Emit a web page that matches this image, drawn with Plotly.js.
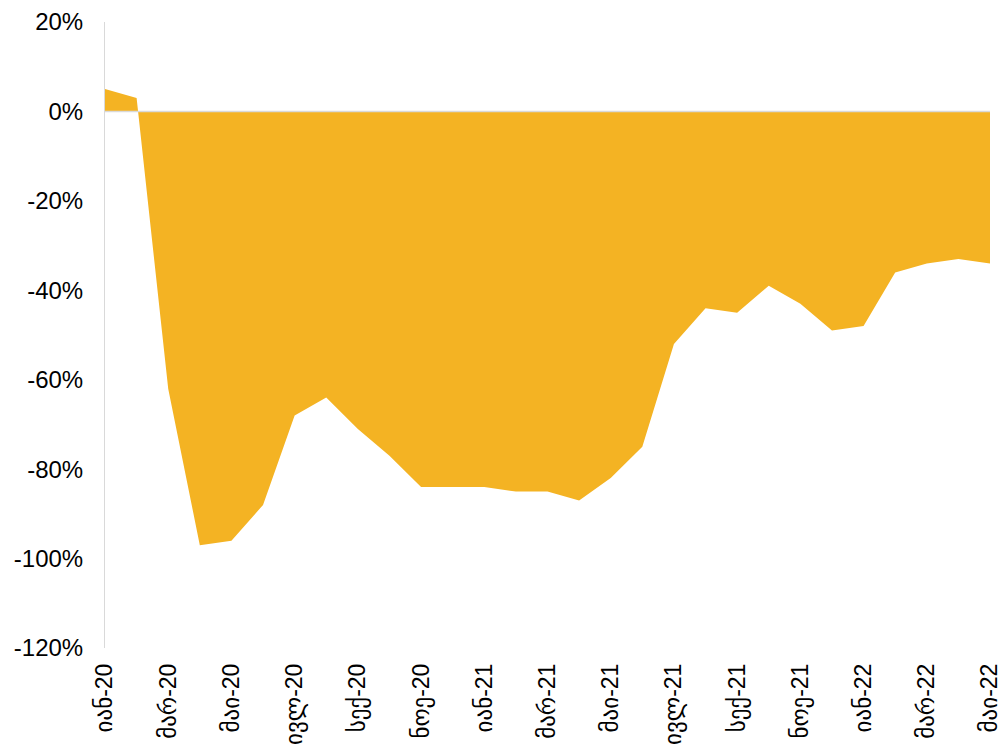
<!DOCTYPE html>
<html>
<head>
<meta charset="utf-8">
<script src="https://cdn.plot.ly/plotly-3.0.1.min.js"></script>
<style>html,body{margin:0;padding:0;background:#fff;}#chart{width:1005px;height:746px;}</style>
</head>
<body>
<div id="chart"></div>
<script>
const months = ["იან","თებ","მარ","აპრ","მაი","ივნ","ივლ","აგვ","სექ","ოქტ","ნოე","დეკ"];
const years = ["20","21","22"];
const categories = [];
for (const y of years) for (const m of months) categories.push(m + "-" + y);
const periods = categories.slice(0, 29); // Jan-20 .. May-22
const values = [5, 3, -62, -97, -96, -88, -68, -64, -71, -77, -84, -84,
                -84, -85, -85, -87, -82, -75, -52, -44, -45, -39, -43, -49,
                -48, -36, -34, -33, -34];
const tickLabels = periods.filter((_, i) => i % 2 === 0);
const yTicks = [-120, -100, -80, -60, -40, -20, 0, 20];

const font = "Liberation Sans, Arial, DejaVu Sans, sans-serif";
Plotly.newPlot("chart", [{
  x: periods,
  y: values,
  type: "scatter",
  mode: "lines",
  fill: "tozeroy",
  fillcolor: "#F4B323",
  line: {width: 0, color: "#F4B323"},
  hoverinfo: "x+y"
}], {
  width: 1005, height: 746,
  margin: {l: 105, r: 15, t: 22, b: 98},
  paper_bgcolor: "#fff", plot_bgcolor: "#fff",
  showlegend: false,
  font: {family: font, color: "#000"},
  xaxis: {
    type: "category",
    range: [0, periods.length - 1],
    tickmode: "array",
    tickvals: tickLabels,
    ticktext: tickLabels,
    tickangle: -90,
    tickfont: {size: 23, family: font, color: "#000"},
    showgrid: false, zeroline: false, showline: false,
    ticks: "", ticklen: 0, ticklabelstandoff: 10
  },
  yaxis: {
    range: [-120, 20],
    tickmode: "array",
    tickvals: yTicks,
    ticktext: yTicks.map(v => v + "%"),
    tickfont: {size: 24, family: font, color: "#000"},
    showgrid: false, zeroline: false,
    showline: true, linecolor: "#d9d9d9", linewidth: 1,
    ticks: "", ticklabelstandoff: 16
  },
  shapes: [{
    type: "line", xref: "paper", yref: "y",
    x0: 0, x1: 1, y0: 0, y1: 0,
    line: {color: "#d9d9d9", width: 1.5},
    layer: "above"
  }]
}, {displayModeBar: false, staticPlot: true});
</script>
</body>
</html>
